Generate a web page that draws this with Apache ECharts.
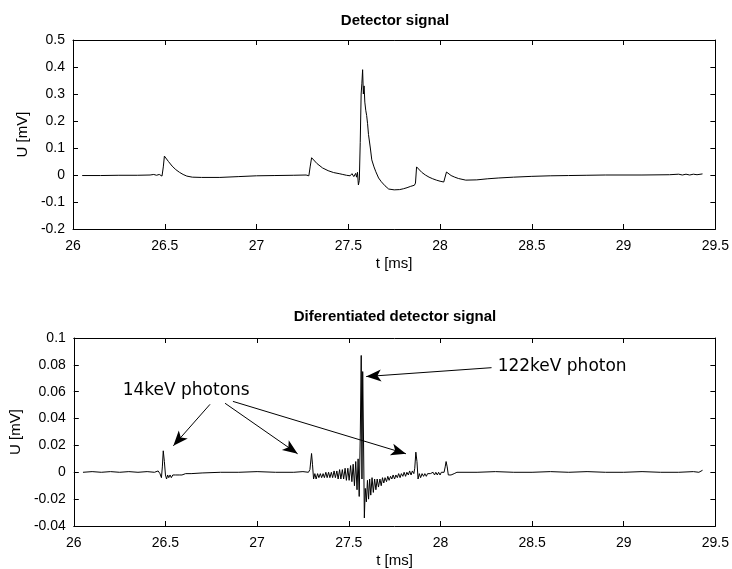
<!DOCTYPE html>
<html>
<head>
<meta charset="utf-8">
<script src="https://cdn.jsdelivr.net/npm/echarts@6/dist/echarts.min.js"></script>
<style>
html,body{margin:0;padding:0;background:#fff;}
#chart{width:732px;height:569px;}
</style>
</head>
<body>
<div id="chart"></div>
<script>
// ---- data (t [ms], U [mV]) ----
const xTicks = { min: 26, max: 29.5, step: 0.5 };
const topTicks = { min: -0.2, max: 0.5, step: 0.1 };
const bottomTicks = { min: -0.04, max: 0.1, step: 0.02 };

const detectorSignal = [
  [26.05,-0.002],[26.15,-0.002],[26.25,-0.001],[26.35,-0.001],[26.42,0.0],[26.44,0.002],[26.455,-0.001],[26.47,0.002],
  [26.485,-0.004],[26.492,0.03],[26.498,0.07],[26.505,0.066],[26.52,0.05],[26.54,0.033],[26.56,0.02],[26.58,0.01],
  [26.6,0.002],[26.62,-0.004],[26.65,-0.008],[26.7,-0.009],[26.8,-0.009],[26.9,-0.006],[27.0,-0.003],[27.1,-0.002],
  [27.2,-0.001],[27.27,0.0],[27.285,-0.003],[27.292,0.03],[27.3,0.064],[27.31,0.058],[27.33,0.042],[27.36,0.026],
  [27.39,0.016],[27.42,0.009],[27.45,0.005],[27.47,0.002],[27.48,0.005],[27.49,-0.001],[27.5,0.004],[27.51,-0.003],
  [27.52,0.005],[27.53,-0.006],[27.54,0.006],[27.545,-0.008],[27.55,0.01],[27.555,-0.037],[27.56,-0.02],[27.565,0.12],
  [27.57,0.3],[27.574,0.34],[27.578,0.39],[27.582,0.3],[27.586,0.33],[27.59,0.27],[27.595,0.24],[27.6,0.22],
  [27.605,0.19],[27.61,0.15],[27.62,0.1],[27.628,0.056],[27.64,0.03],[27.65,0.012],[27.665,-0.011],[27.68,-0.025],
  [27.7,-0.04],[27.72,-0.052],[27.75,-0.055],[27.78,-0.054],[27.8,-0.051],[27.82,-0.047],[27.84,-0.042],[27.86,-0.038],
  [27.866,-0.03],[27.872,0.03],[27.88,0.024],[27.9,0.01],[27.92,0.0],[27.94,-0.008],[27.96,-0.014],[27.98,-0.019],
  [28.0,-0.023],[28.02,-0.026],[28.028,-0.02],[28.035,0.011],[28.045,0.006],[28.06,-0.002],[28.08,-0.008],[28.1,-0.013],
  [28.14,-0.019],[28.2,-0.018],[28.26,-0.014],[28.32,-0.011],[28.4,-0.008],[28.5,-0.005],[28.6,-0.003],[28.7,-0.002],
  [28.8,-0.001],[28.9,0.0],[29.1,0.0],[29.25,0.001],[29.3,0.003],[29.32,0.0],[29.34,0.003],[29.36,0.0],
  [29.38,0.003],[29.4,0.001],[29.43,0.004]
];

const differentiatedSignal = [
  [26.05,0],[26.1,0.0005],[26.15,0],[26.2,0.0005],[26.25,0],[26.3,0.0005],[26.35,0],[26.4,0.0005],[26.44,0],
  [26.46,0.001],[26.47,-0.001],[26.478,-0.004],[26.483,0.004],[26.488,0.016],[26.494,0.008],[26.5,-0.002],
  [26.506,-0.005],[26.512,-0.002],[26.518,-0.004],[26.525,-0.002],[26.532,-0.004],[26.54,-0.002],[26.548,-0.003],
  [26.556,-0.002],[26.565,-0.003],[26.575,-0.002],[26.59,-0.002],[26.61,-0.001],[26.64,-0.001],[26.7,-0.0005],
  [26.8,0],[26.9,0],[27.0,0.0005],[27.1,0],[27.2,0],[27.25,0.0005],[27.28,0.0],[27.288,0.002],[27.297,0.014],
  [27.302,0.006],[27.308,-0.005],
  [27.315,-0.001],[27.322,-0.005],[27.33,-0.001],[27.337,-0.004],[27.345,-0.001],[27.352,-0.004],[27.36,-0.001],
  [27.367,-0.004],[27.375,0.0],[27.382,-0.004],[27.39,0.0],[27.397,-0.004],[27.405,0.0],[27.412,-0.004],
  [27.42,0.001],[27.427,-0.004],[27.435,0.001],[27.442,-0.005],[27.45,0.002],[27.457,-0.005],[27.465,0.002],
  [27.472,-0.005],[27.48,0.003],[27.487,-0.006],[27.495,0.003],[27.502,-0.006],[27.51,0.005],[27.517,-0.007],
  [27.524,0.006],[27.531,-0.01],[27.538,0.008],[27.545,-0.013],[27.551,0.01],[27.557,-0.018],[27.563,0.03],
  [27.568,0.087],[27.572,-0.005],[27.576,0.075],[27.58,0.03],[27.585,-0.034],[27.59,-0.012],[27.596,-0.022],
  [27.602,-0.006],[27.608,-0.02],[27.614,-0.005],[27.62,-0.017],[27.627,-0.004],[27.634,-0.015],[27.641,-0.005],
  [27.648,-0.013],[27.655,-0.005],[27.662,-0.011],[27.67,-0.005],[27.677,-0.01],[27.684,-0.004],[27.691,-0.008],
  [27.698,-0.004],[27.706,-0.007],[27.713,-0.003],[27.72,-0.006],[27.728,-0.003],[27.735,-0.005],[27.742,-0.002],
  [27.75,-0.005],[27.757,-0.002],[27.765,-0.004],[27.772,-0.001],[27.78,-0.004],[27.787,-0.001],[27.795,-0.003],
  [27.802,0.0],[27.81,-0.003],[27.817,0.0],[27.825,-0.002],[27.832,0.001],[27.84,-0.002],[27.847,0.001],
  [27.855,-0.001],[27.86,0.003],[27.866,0.015],[27.872,0.008],[27.878,-0.005],[27.885,-0.001],[27.892,-0.004],
  [27.9,-0.001],[27.908,-0.003],[27.915,-0.001],[27.923,-0.003],[27.93,-0.001],[27.938,-0.002],[27.945,-0.001],
  [27.953,-0.002],[27.96,0.0],[27.968,-0.002],[27.975,0.0],[27.983,-0.002],[27.99,0.0],[27.998,-0.002],
  [28.005,0.0],[28.013,-0.001],[28.02,0.0],[28.026,0.004],[28.031,0.008],[28.037,0.004],[28.043,-0.002],
  [28.05,-0.001],[28.058,-0.002],[28.065,-0.001],[28.075,-0.001],[28.09,0.0],[28.1,0.0005],[28.2,0],[28.3,0.0005],
  [28.4,0],[28.5,0],[28.6,0.0005],[28.7,0],[28.8,0.0005],[28.9,0],[29.0,0],[29.1,0.0005],[29.2,0],[29.3,0],
  [29.38,0.0005],[29.41,0],[29.43,0.0015]
];

// annotations: [label, anchor t, anchor U]
const photon14Label = ['14keV photons', 26.613, 0.061];
const photon14Arrows = [
  [[26.743, 0.0506], [26.543, 0.0197]],
  [[26.825, 0.0514], [27.221, 0.0138]],
  [[26.868, 0.0528], [27.812, 0.0138]]
];
const photon122Label = ['122keV photon', 28.664, 0.0786];
const photon122Arrows = [
  [[28.279, 0.0779], [27.595, 0.0713]]
];

// ---- chart ----
const FONT = '"Liberation Sans", Arial, sans-serif';
const black = '#000';

function xAxisPair(gridIndex) {
  const base = {
    type: 'value', gridIndex, min: xTicks.min, max: xTicks.max, interval: xTicks.step,
    axisLine: { show: true, onZero: false, lineStyle: { color: black, width: 1 } },
    axisTick: { show: true, inside: true, length: 5, lineStyle: { color: black } },
    splitLine: { show: false }
  };
  return [
    Object.assign({}, base, {
      position: 'bottom',
      axisLabel: { color: black, fontFamily: FONT, fontSize: 14, margin: 10 },
      name: 't [ms]', nameLocation: 'middle', nameGap: 27,
      nameTextStyle: { color: black, fontFamily: FONT, fontSize: 15 }
    }),
    Object.assign({}, base, { position: 'top', axisLabel: { show: false } })
  ];
}
function yAxisPair(gridIndex, t) {
  const base = {
    type: 'value', gridIndex, min: t.min, max: t.max, interval: t.step,
    axisLine: { show: true, onZero: false, lineStyle: { color: black, width: 1 } },
    axisTick: { show: true, inside: true, length: 5, lineStyle: { color: black } },
    splitLine: { show: false }
  };
  return [
    Object.assign({}, base, {
      position: 'left',
      axisLabel: { color: black, fontFamily: FONT, fontSize: 14, margin: 8 },
      name: 'U [mV]', nameLocation: 'middle', nameGap: 43,
      nameTextStyle: { color: black, fontFamily: FONT, fontSize: 15 }
    }),
    Object.assign({}, base, { position: 'right', axisLabel: { show: false } })
  ];
}

function arrowLines(arrows) {
  return arrows.map(a => [
    { coord: a[0], symbol: 'none' },
    { coord: a[1], symbol: 'arrow', symbolSize: [9, 15] }
  ]);
}
function textPoint(lbl) {
  return {
    coord: [lbl[1], lbl[2]], symbol: 'rect', symbolSize: 0,
    label: { show: true, position: 'inside', formatter: lbl[0], color: black,
      fontFamily: '"DejaVu Sans", sans-serif', fontSize: 17 }
  };
}

const option = {
  animation: false,
  backgroundColor: '#fff',
  title: [
    { text: 'Detector signal', left: 395, top: 13, textAlign: 'center', padding: 0,
      textStyle: { fontFamily: FONT, fontWeight: 'bold', fontSize: 15, color: black } },
    { text: 'Diferentiated detector signal', left: 395, top: 309, textAlign: 'center', padding: 0,
      textStyle: { fontFamily: FONT, fontWeight: 'bold', fontSize: 15, color: black } }
  ],
  grid: [
    { left: 73, right: 14, top: 40, height: 189 },
    { left: 73, right: 14, top: 338, height: 190 }
  ],
  xAxis: [].concat(xAxisPair(0), xAxisPair(1)),
  yAxis: [].concat(yAxisPair(0, topTicks), yAxisPair(1, bottomTicks)),
  series: [
    {
      type: 'line', xAxisIndex: 0, yAxisIndex: 0, data: detectorSignal,
      showSymbol: false, symbol: 'none', lineStyle: { color: black, width: 1 }
    },
    {
      type: 'line', xAxisIndex: 2, yAxisIndex: 2, data: differentiatedSignal,
      showSymbol: false, symbol: 'none', lineStyle: { color: black, width: 1 },
      markLine: {
        silent: true, animation: false,
        lineStyle: { color: black, width: 1, type: 'solid' },
        itemStyle: { color: black },
        label: { show: false },
        emphasis: { disabled: true },
        data: arrowLines(photon14Arrows).concat(arrowLines(photon122Arrows))
      },
      markPoint: {
        silent: true, animation: false,
        data: [textPoint(photon14Label), textPoint(photon122Label)]
      }
    }
  ]
};

const chart = echarts.init(document.getElementById('chart'), null, { renderer: 'canvas' });
chart.setOption(option);
</script>
</body>
</html>
